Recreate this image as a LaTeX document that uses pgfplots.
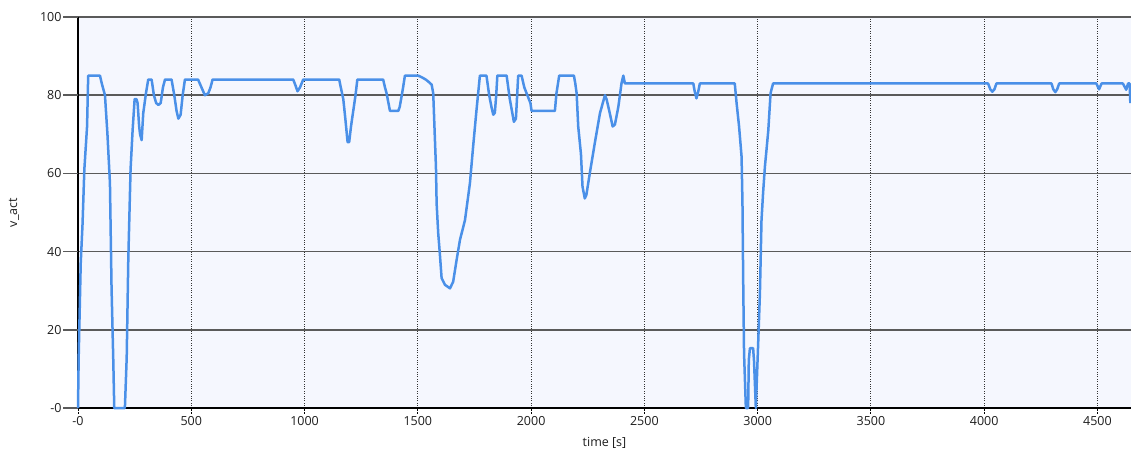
\documentclass[border=0pt]{standalone}
\usepackage{pgfplots}
\pgfplotsset{compat=1.18}
\usepackage{fontspec}
\setmainfont{Open Sans}
\definecolor{bgc}{RGB}{245,247,254}
\definecolor{linec}{RGB}{74,144,232}
\definecolor{gridc}{RGB}{90,90,90}
\definecolor{txtc}{RGB}{30,30,30}
\pgfplotstableread{
t v
0 0
3 13
12 37
20 47
28 61
40 72
45 85
97 85
105 83
119 80
130 70
141 57.5
148 31
156 11.5
160 0
207 0
215 13
222 38
232 61
241 71
250 79
258 79
263 78
270 72
274 70
281 68.5
288 75.4
300 80.5
310 84
325 84
335 80
345 78
355 77.5
365 78
375 82
384 84
413 84
425 80
435 76
443 74
453 75
462 80
472 84
530 84
545 82
560 80
575 80.5
585 82
594 84
950 84
960 82.5
969 81
980 82
994 84
1153 84
1160 82
1171 79
1180 74
1190 68
1197 68
1205 72
1215 76
1225 80
1233 84
1347 84
1355 82
1362 80.5
1377 76
1400 76
1414 76
1420 77
1428 79.6
1435 82
1443 85
1502 85
1520 84.5
1535 84
1546 83.5
1561 82.7
1568 80.5
1575 69.4
1580 61.7
1583 52.3
1590 44.7
1597 39.6
1605 33.2
1620 31.5
1642 30.6
1656 32.3
1671 37.8
1686 43
1708 48
1730 57.5
1744 66.8
1759 76.2
1774 85
1803 85
1815 80
1825 77
1833 75
1840 75.5
1846 80
1851 85
1892 85
1906 79
1924 73.2
1933 74
1943 85
1958 85
1970 82
1980 80.5
1997 78
2002 76
2105 76
2112 80.5
2124 85
2189 85
2195 83
2201 80.5
2208 72
2220 65
2227 56.6
2237 53.6
2244 54.5
2259 60
2281 67.7
2304 75.4
2326 80
2333 79
2345 76
2360 72
2370 72.5
2385 77
2399 83
2407 85
2414 83
2716 83
2722 81
2730 79.2
2738 81
2745 83
2899 83
2907 78
2918 72
2929 64.3
2933 52.3
2936 33.6
2940 14
2948 0
2958 0
2961 12.3
2966 15.3
2980 15.3
2984 12
2992 0
3002 16
3010 29.3
3017 48
3024 55
3032 61.7
3039 66
3047 71
3057 80.5
3068 83
4017 83
4027 81.5
4036 80.9
4045 81.5
4054 83
4297 83
4305 81.5
4314 80.8
4322 81.5
4331 83
4495 83
4507 81.5
4518 83
4612 83
4627 81.4
4635 83
4642 83
4645 78
}\speed
\begin{document}
\begin{tikzpicture}[x=1pt,y=1pt]
\useasboundingbox (0,0) rectangle (1131,455);
\begin{axis}[
  at={(78pt,47pt)}, anchor=south west,
  scale only axis, width=1053pt, height=391pt,
  xmin=0, xmax=4648, ymin=0, ymax=100,
  axis x line*=bottom, axis y line*=left,
  axis line style={black, line width=1.3pt},
  axis background/.style={fill=bgc},
  xtick={0,500,...,4500},
  xticklabels={-0,500,1000,1500,2000,2500,3000,3500,4000,4500},
  ytick={0,20,40,60,80,100},
  yticklabels={-0,20,40,60,80,100},
  tick align=outside, major tick length=5pt,
  ymajorgrids, xmajorgrids,
  y grid style={gridc, line width=1.6pt},
  x grid style={black!80, dotted, line width=0.9pt},
  x tick style={black, densely dotted, line width=0.9pt},
  y tick style={draw=none},
  font=\fontsize{12.5}{14}\selectfont,
  ticklabel style={text=txtc},
  yticklabel style={xshift=-8pt},
  xlabel={time [s]}, ylabel={v\_act},
  xlabel style={at={(axis description cs:0.5,-0.0895)}, anchor=center, text=txtc},
  ylabel style={at={(axis description cs:-0.0608,0.5)}, anchor=center, text=txtc},
  clip=false,
]
\pgfplotsinvokeforeach{0,20,40,60,80,100}{
  \draw[gridc, line width=1.6pt] (axis cs:0,#1) -- ++(-15pt,0);
}
\addplot[linec, line width=2.5pt, line join=round] table[x=t,y=v] {\speed};
\end{axis}
\end{tikzpicture}
\end{document}
